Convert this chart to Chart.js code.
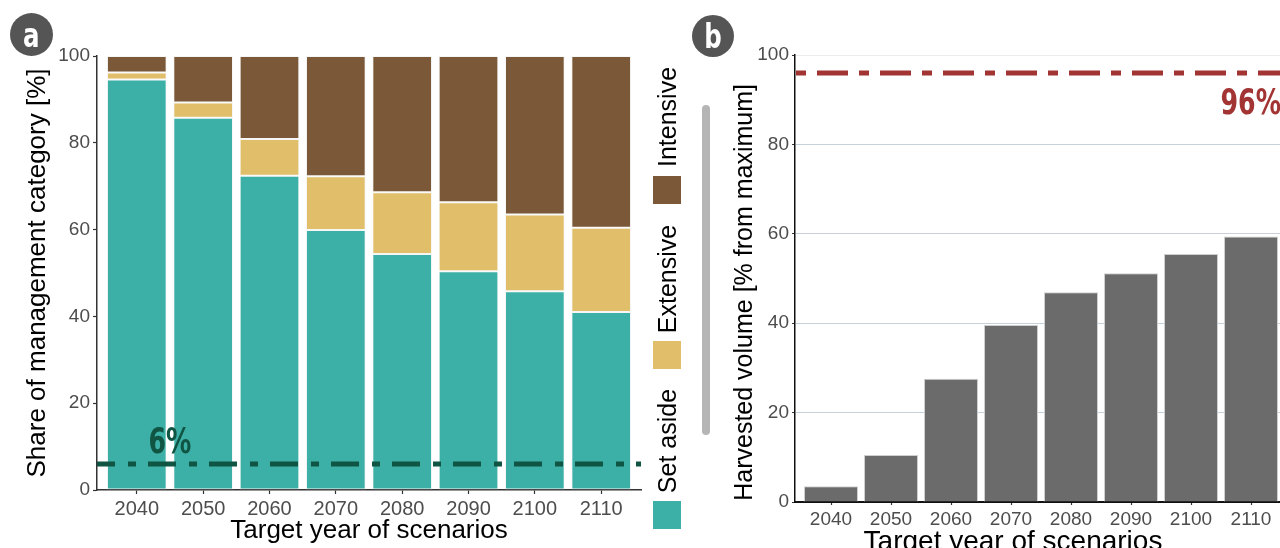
<!DOCTYPE html>
<html><head><meta charset="utf-8">
<script src="https://cdn.jsdelivr.net/npm/chart.js@4.4.1/dist/chart.umd.min.js"></script>
<style>
html,body{margin:0;padding:0;width:1280px;height:548px;overflow:hidden;background:#fff;font-family:'Liberation Sans',Arial,sans-serif;}
#wrap{position:relative;width:1280px;height:548px;overflow:hidden;}
canvas{position:absolute;top:0;}
#ca{left:0}
#cb{left:700px}
.badge{position:absolute;border-radius:50%;background:#555;color:#fff;display:flex;align-items:center;justify-content:center;line-height:1;}
.badge span{display:inline-block;font:bold 34px 'DejaVu Sans Condensed','DejaVu Sans',sans-serif;transform:scaleX(0.8);}
.key{position:absolute;width:28px;height:28px;left:653px;}
.lab{position:absolute;font-size:25px;color:#000;transform:translate(-50%,-50%) rotate(-90deg);white-space:nowrap;line-height:1;}
#sep{position:absolute;left:702px;top:105px;width:8px;height:330px;border-radius:4px;background:#b5b5b5;}
#xtb{position:absolute;left:1013px;top:526px;transform:translateX(-50%);font-size:28px;line-height:30px;color:#000;white-space:nowrap;}
</style></head>
<body><div id="wrap">
<canvas id="ca" width="645" height="548"></canvas>
<canvas id="cb" width="590" height="548"></canvas>
<div class="badge" style="left:10px;top:13px;width:43px;height:43px;"><span>a</span></div>
<div class="badge" style="left:692px;top:15px;width:42px;height:42px;"><span>b</span></div>
<div id="sep"></div>
<div class="lab" style="left:667px;top:117px;">Intensive</div>
<div class="key" style="top:176px;background:#7B5837;"></div>
<div class="lab" style="left:667px;top:279px;">Extensive</div>
<div class="key" style="top:341px;background:#E0BE6A;"></div>
<div class="lab" style="left:667px;top:441px;">Set aside</div>
<div class="key" style="top:501px;background:#3CB0A7;"></div>
<div id="xtb">Target year of scenarios</div>
</div>
<script>
// ---- data ----
const years = ['2040','2050','2060','2070','2080','2090','2100','2110'];
const setAside  = [94.6, 85.8, 72.4, 59.9, 54.4, 50.4, 45.8, 41.0];
const extensive = [1.6, 3.5, 8.5, 12.4, 14.2, 15.9, 17.7, 19.4];
const intensive = [3.8, 10.7, 19.1, 27.7, 31.4, 33.7, 36.5, 39.6];
const harvested = [3.5, 10.5, 27.6, 39.6, 46.9, 51.2, 55.5, 59.4];
const yTicks = [0, 20, 40, 60, 80, 100];
const setAsideTarget = 6;
const harvestTarget = 96;
const targetLabels = ['6%', '96%'];

// ---- styling ----
const TEAL = '#3CB0A7', TAN = '#E0BE6A', BROWN = '#7B5837';
const DKGREEN = '#105443', RED = '#A23434', GREY = '#6B6B6B';
Chart.defaults.font.family = "'Liberation Sans', Arial, sans-serif";
const xMin = 0.4, xMax = years.length + 0.6;
const toXY = arr => arr.map((v, i) => ({x: i + 1, y: v}));
const hline = v => [{x: xMin, y: v}, {x: xMax, y: v}];

const targetText = {
  id: 'targetText',
  afterDatasetsDraw(chart, args, o) {
    const {ctx, scales: {x, y}} = chart;
    ctx.save();
    ctx.font = "bold 36px 'DejaVu Sans Condensed','DejaVu Sans',sans-serif";
    ctx.fillStyle = o.color; ctx.textAlign = o.align; ctx.textBaseline = 'alphabetic';
    ctx.translate(x.getPixelForValue(o.x), y.getPixelForValue(o.y) + o.dy);
    ctx.scale(0.78, 1);
    ctx.fillText(o.text, 0, 0);
    ctx.restore();
  }
};

const xScale = (h, tl, borderW, borderC, fs) => ({
  type: 'linear', min: xMin, max: xMax, stacked: true, offset: false,
  afterBuildTicks: s => { s.ticks = years.map((_, i) => ({value: i + 1})); },
  ticks: {callback: v => years[Math.round(v) - 1] || '', font: {size: fs}, color: '#4d4d4d', padding: 3, maxRotation: 0, autoSkip: false},
  grid: {offset: false, drawOnChartArea: false, tickLength: tl, tickColor: '#333', tickWidth: 1.2},
  border: {display: true, color: borderC, width: borderW},
  afterFit: s => { s.height = h; }
});

new Chart(document.getElementById('ca'), {
  type: 'bar',
  data: {datasets: [
    {label: 'Set aside', data: toXY(setAside), backgroundColor: TEAL, order: 1},
    {label: 'Extensive', data: toXY(extensive), backgroundColor: TAN, order: 1},
    {label: 'Intensive', data: toXY(intensive), backgroundColor: BROWN, order: 1},
    {type: 'line', label: 'target', data: hline(setAsideTarget), stack: 'ref', order: 0,
     borderColor: DKGREEN, borderWidth: 5, borderDash: [28, 13, 8, 12], borderDashOffset: 10,
     borderCapStyle: 'butt', pointRadius: 0, fill: false}
  ]},
  options: {
    responsive: false, animation: false,
    datasets: {bar: {barPercentage: 0.9, categoryPercentage: 1, borderWidth: 1, borderColor: 'rgba(235,235,235,0.45)', borderSkipped: false}},
    layout: {padding: {left: 0, right: 4, top: 56, bottom: 0}},
    plugins: {legend: {display: false}, tooltip: {enabled: false},
      targetText: {text: targetLabels[0], x: 1.5, y: setAsideTarget, dy: -11, align: 'center', color: DKGREEN}},
    scales: {
      x: Object.assign(xScale(58, 4, 1.5, '#333', 20), {
        title: {display: true, text: 'Target year of scenarios', font: {size: 26}, color: '#000', padding: {top: 0, bottom: 2}}
      }),
      y: {
        stacked: true, min: 0, max: 100,
        afterBuildTicks: s => { s.ticks = yTicks.map(v => ({value: v})); },
        ticks: {font: {size: 19}, color: '#4d4d4d', padding: 3},
        grid: {drawOnChartArea: false, tickLength: 4, tickColor: '#333', tickWidth: 1.2},
        border: {display: true, color: '#333', width: 1.5},
        title: {display: true, text: 'Share of management category [%]', font: {size: 26}, color: '#000', padding: {top: 22, bottom: 0}},
        afterFit: s => { s.width = 97; }
      }
    }
  },
  plugins: [targetText]
});

new Chart(document.getElementById('cb'), {
  type: 'bar',
  data: {datasets: [
    {label: 'Harvested', data: toXY(harvested), backgroundColor: GREY, order: 1},
    {type: 'line', label: 'target', data: hline(harvestTarget), stack: 'ref', order: 0,
     borderColor: RED, borderWidth: 5, borderDash: [31, 11, 10, 11], borderDashOffset: 41,
     borderCapStyle: 'butt', pointRadius: 0, fill: false}
  ]},
  options: {
    responsive: false, animation: false,
    datasets: {bar: {barPercentage: 0.9, categoryPercentage: 1, borderWidth: 1, borderColor: '#cfcfcf', borderSkipped: 'bottom'}},
    layout: {padding: {left: 0, right: 3, top: 55, bottom: 0}},
    plugins: {legend: {display: false}, tooltip: {enabled: false},
      targetText: {text: targetLabels[1], x: 8.5, y: harvestTarget, dy: 41, align: 'right', color: RED}},
    scales: {
      x: xScale(46, 3, 2, '#111', 19),
      y: {
        min: 0, max: 100,
        afterBuildTicks: s => { s.ticks = yTicks.map(v => ({value: v})); },
        ticks: {font: {size: 19}, color: '#4d4d4d', padding: 3},
        grid: {color: c => c.tick && c.tick.value === 100 ? '#ececec' : (c.tick && c.tick.value === 0 ? 'rgba(0,0,0,0)' : '#c6d1db'),
               lineWidth: 1, tickLength: 3, tickColor: '#333', tickWidth: 1.2},
        border: {display: true, color: '#111', width: 1.5},
        title: {display: true, text: 'Harvested volume [% from maximum]    ', font: {size: 25}, color: '#000', padding: {top: 30, bottom: 0}},
        afterFit: s => { s.width = 95; }
      }
    }
  },
  plugins: [targetText]
});
</script>
</body></html>
